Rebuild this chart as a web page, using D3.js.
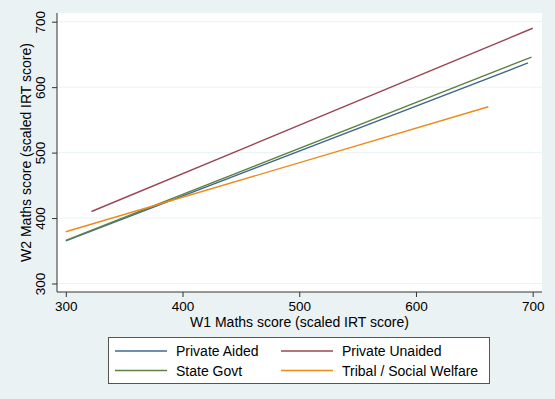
<!DOCTYPE html>
<html>
<head>
<meta charset="utf-8">
<script src="https://cdn.jsdelivr.net/npm/d3@7"></script>
<style>
  body { margin: 0; background: #eaf2f3; }
  svg { display: block; font-family: "Liberation Sans", Arial, sans-serif; }
</style>
</head>
<body>
<div id="app"></div>
<script>
`use strict`;

const groups = [`Private Aided`, `Private Unaided`, `State Govt`, `Tribal / Social Welfare`];
const colors = [`#3f6890`, `#9a4752`, `#5e8240`, `#ec8a1a`];

// fitted line end points [w1, w2]
const privateAided = [[300, 365], [696, 637]];
const privateUnaided = [[322, 410], [700, 690]];
const stateGovt = [[300, 366], [699, 646]];
const tribalWelfare = [[300, 379], [662, 570]];

const xTicks = [300, 400, 500, 600, 700];
const yTicks = [300, 400, 500, 600, 700];

const series = [privateAided, privateUnaided, stateGovt, tribalWelfare];

const W = 555, H = 399;
const P = {left: 57, right: 542, top: 13, bottom: 292};

let SVG = d3.select(`#app`).append(`svg`).attr(`width`, W).attr(`height`, H);

SVG.append(`rect`).attr(`width`, W).attr(`height`, H).attr(`fill`, `#eaf2f3`);
SVG.append(`rect`).attr(`x`, P.left).attr(`y`, P.top).attr(`width`, P.right - P.left).attr(`height`, P.bottom - P.top).attr(`fill`, `#fff`);

let x = d3.scaleLinear().domain([300, 700]).range([65.8, 532.7]);
let y = d3.scaleLinear().domain([300, 700]).range([283.5, 21.7]);

// grid
SVG.append(`g`).selectAll(`line`).data(yTicks).enter().append(`line`)
  .attr(`x1`, P.left).attr(`x2`, P.right)
  .attr(`y1`, d => y(d)).attr(`y2`, d => y(d))
  .attr(`stroke`, `#eaf2f3`).attr(`stroke-width`, 1);

// axes
let xAxis = SVG.append(`g`).attr(`transform`, `translate(0,${P.bottom})`)
  .call(d3.axisBottom(x).tickValues(xTicks).tickSize(5).tickPadding(4));
xAxis.select(`.domain`).attr(`d`, `M${P.left},0H${P.right}`);

let yAxis = SVG.append(`g`).attr(`transform`, `translate(${P.left},0)`)
  .call(d3.axisLeft(y).tickValues(yTicks).tickSize(5));
yAxis.select(`.domain`).attr(`d`, `M0,${P.top}V${P.bottom}`);

SVG.selectAll(`.domain, .tick line`).attr(`stroke`, `#333`);
SVG.selectAll(`.tick text`).attr(`font-size`, `13.5px`).attr(`fill`, `#000`).attr(`font-family`, `"Liberation Sans", Arial, sans-serif`);

yAxis.selectAll(`.tick text`)
  .attr(`transform`, `rotate(-90)`)
  .attr(`x`, 0).attr(`y`, -12).attr(`dy`, 0)
  .attr(`text-anchor`, `middle`);

// axis titles
SVG.append(`text`).attr(`x`, (P.left + P.right) / 2).attr(`y`, 327)
  .attr(`text-anchor`, `middle`).attr(`font-size`, `14px`).text(`W1 Maths score (scaled IRT score)`);

SVG.append(`text`).attr(`transform`, `translate(31,${(P.top + P.bottom) / 2}) rotate(-90)`)
  .attr(`text-anchor`, `middle`).attr(`font-size`, `14px`).text(`W2 Maths score (scaled IRT score)`);

// lines
let line = d3.line().x(d => x(d[0])).y(d => y(d[1]));

SVG.append(`g`).selectAll(`path`).data(series).enter().append(`path`)
  .attr(`d`, line).attr(`fill`, `none`)
  .attr(`stroke`, (d, i) => colors[i]).attr(`stroke-width`, 1.4);

// legend
let LG = SVG.append(`g`);
LG.append(`rect`).attr(`x`, 108.5).attr(`y`, 337.5).attr(`width`, 381).attr(`height`, 46)
  .attr(`fill`, `#fff`).attr(`stroke`, `#555`).attr(`stroke-width`, 1);

groups.forEach((g, i) => {
  let col = i % 2, row = Math.floor(i / 2);
  let lx = col ? 281 : 115, ly = row ? 370.5 : 351;
  LG.append(`line`).attr(`x1`, lx).attr(`x2`, lx + 52).attr(`y1`, ly).attr(`y2`, ly)
    .attr(`stroke`, colors[i]).attr(`stroke-width`, 1.4);
  LG.append(`text`).attr(`x`, lx + 61).attr(`y`, ly + 5).attr(`font-size`, `14px`).text(g);
});
</script>
</body>
</html>
